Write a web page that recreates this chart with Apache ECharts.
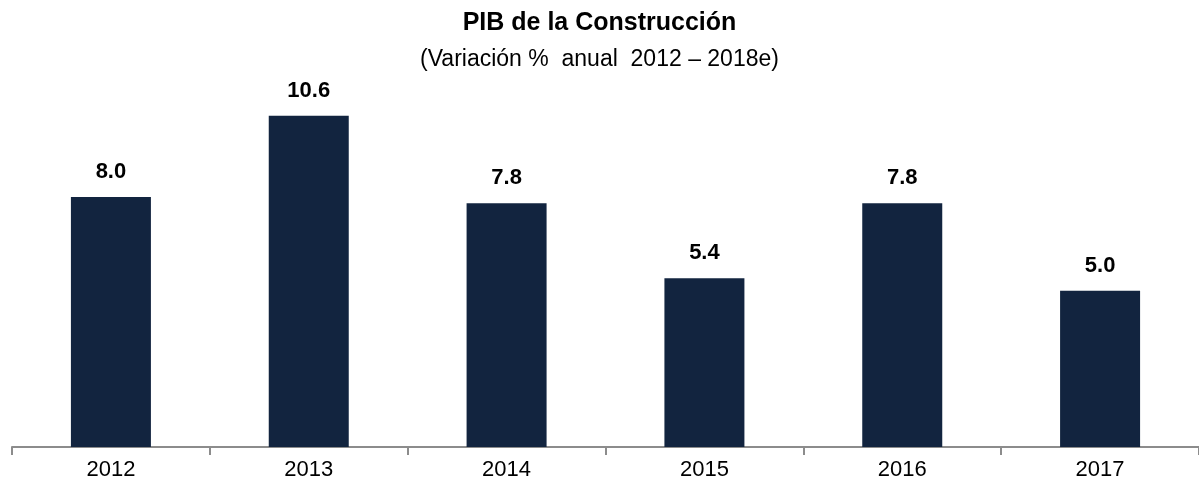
<!DOCTYPE html>
<html>
<head>
<meta charset="utf-8">
<script src="https://cdn.jsdelivr.net/npm/echarts@6/dist/echarts.min.js"></script>
<style>
  html, body { margin: 0; padding: 0; background: #fff; }
  #chart { width: 1199px; height: 487px; }
</style>
</head>
<body>
<div id="chart"></div>
<script>
// datos
const years = ['2012', '2013', '2014', '2015', '2016', '2017'];
const variacion = [8.0, 10.6, 7.8, 5.4, 7.8, 5.0];

const font = '"Liberation Sans Narrow", "Arial Narrow", "Liberation Sans", Arial, sans-serif';

const myChart = echarts.init(document.getElementById('chart'));
myChart.setOption({
  animation: false,
  title: {
    text: 'PIB de la Construcción',
    subtext: '(Variación %  anual  2012 – 2018e)',
    left: 'center',
    top: 6,
    itemGap: 12,
    textStyle: { fontFamily: font, fontSize: 25, fontWeight: 'bold', color: '#000' },
    subtextStyle: { fontFamily: font, fontSize: 23, color: '#000' }
  },
  grid: { left: 12, right: 0, top: 72, bottom: 40 },
  xAxis: {
    type: 'category',
    data: years,
    axisLine: { lineStyle: { color: '#8c8c8c', width: 2 } },
    axisTick: { show: true, length: 8, lineStyle: { color: '#8c8c8c', width: 2 } },
    axisLabel: { fontFamily: font, fontSize: 22, color: '#000', margin: 12 }
  },
  yAxis: {
    type: 'value',
    min: 0,
    max: 12,
    show: false,
    splitLine: { show: false }
  },
  series: [{
    type: 'bar',
    data: variacion,
    barWidth: 80,
    itemStyle: { color: '#12243f' },
    label: {
      show: true,
      position: 'top',
      distance: 14,
      fontFamily: font,
      fontSize: 22,
      fontWeight: 'bold',
      color: '#000',
      formatter: p => p.value.toFixed(1)
    }
  }]
});
</script>
</body>
</html>
